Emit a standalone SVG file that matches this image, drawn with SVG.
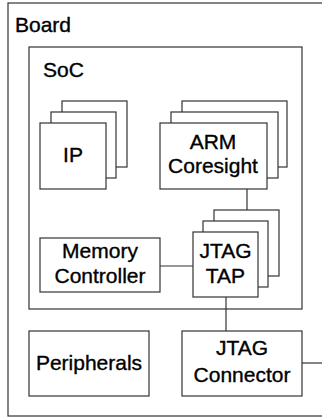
<svg xmlns="http://www.w3.org/2000/svg" width="322" height="418" viewBox="0 0 322 418">
<style>
rect{fill:#fff;stroke:#333;stroke-width:1.2}
text{font-family:"Liberation Sans",Arial,sans-serif;font-size:21px;fill:#000;stroke:#000;stroke-width:0.35}
.c{text-anchor:middle}
line{stroke:#333;stroke-width:1.2}
</style>
<rect x="0" y="0" width="322" height="418" style="stroke:none"/>
<g id="board"><rect x="8" y="3" width="316" height="413"/><text x="15" y="32">Board</text></g>
<g id="soc"><rect x="29" y="47" width="273" height="262"/><text x="43" y="77">SoC</text></g>
<g id="ip">
<rect x="62" y="101" width="65" height="66"/>
<rect x="51" y="112" width="65" height="66"/>
<rect x="40" y="123" width="66" height="66"/>
<text class="c" x="73" y="162">IP</text>
</g>
<g id="arm">
<rect x="182" y="101" width="105" height="66"/>
<rect x="171" y="112" width="107" height="66"/>
<rect x="160" y="123" width="107" height="66"/>
<text class="c" x="213" y="149">ARM</text>
<text class="c" x="213" y="173">Coresight</text>
</g>
<g id="connectors">
<line x1="247" y1="189" x2="247" y2="210"/>
<line x1="160" y1="266" x2="193" y2="266"/>
<line x1="226" y1="297" x2="226" y2="331"/>
<line x1="302" y1="363" x2="322" y2="363"/>
</g>
<g id="jtagtap">
<rect x="214" y="210" width="65" height="66"/>
<rect x="203" y="221" width="65" height="66"/>
<rect x="193" y="232" width="65" height="65"/>
<text class="c" x="225.5" y="258">JTAG</text>
<text class="c" x="225.5" y="283">TAP</text>
</g>
<g id="memctrl">
<rect x="40" y="238" width="120" height="54"/>
<text class="c" x="100" y="258">Memory</text>
<text class="c" x="100" y="283">Controller</text>
</g>
<g id="peripherals">
<rect x="29" y="331" width="120" height="65"/>
<text class="c" x="89" y="370">Peripherals</text>
</g>
<g id="jtagconn">
<rect x="182" y="331" width="120" height="65"/>
<text class="c" x="242" y="355">JTAG</text>
<text class="c" x="242" y="382">Connector</text>
</g>
</svg>
